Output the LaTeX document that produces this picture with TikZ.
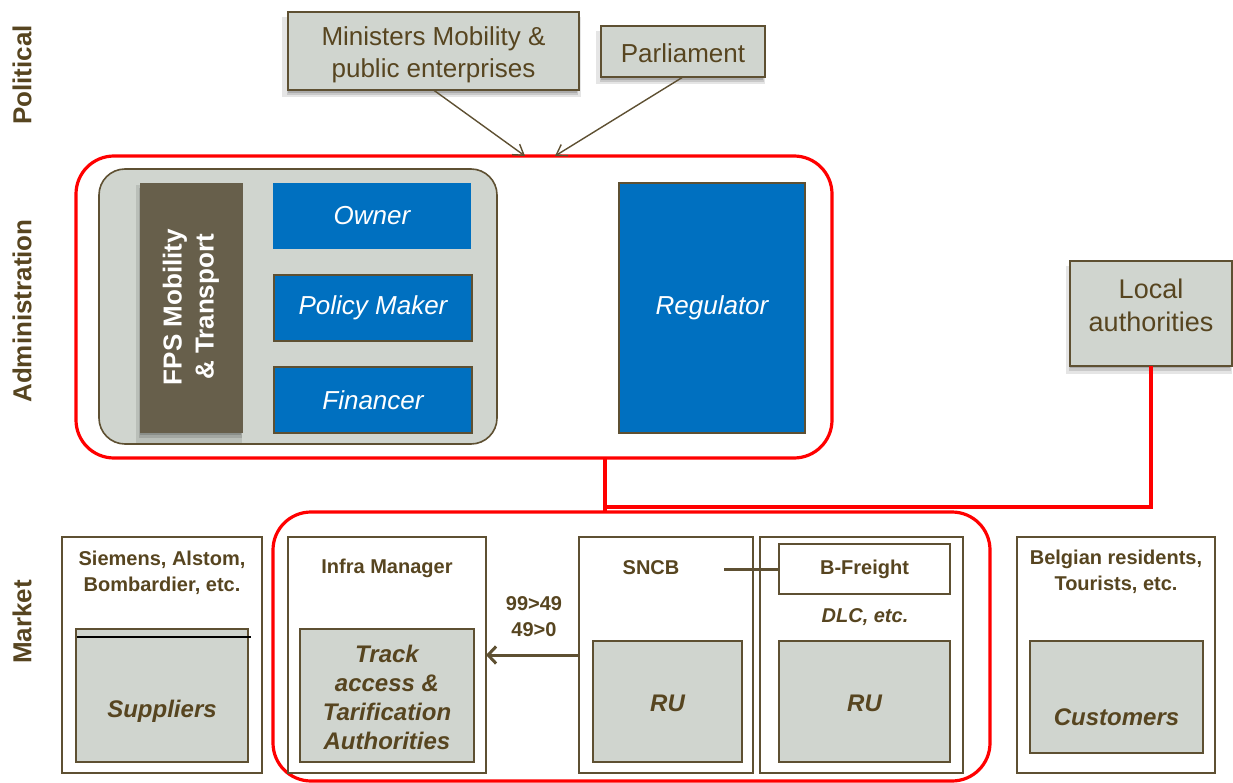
\documentclass[tikz,border=0pt]{standalone}
\usepackage{fontspec}
\setmainfont{Liberation Sans}
\usetikzlibrary{arrows.meta,shadows,calc}

\definecolor{txtbrown}{HTML}{574520}
\definecolor{edgebrown}{HTML}{5E5032}
\definecolor{panelgrey}{HTML}{D0D5CF}
\definecolor{roleblue}{HTML}{0070C0}
\definecolor{fpsbrown}{HTML}{675F4B}
\definecolor{linkred}{HTML}{FF0000}

\begin{document}
\begin{tikzpicture}[x=1pt,y=-1pt,
  every node/.style={inner sep=0pt, outer sep=0pt},
  sidelabel/.style={rotate=90, text=txtbrown, font=\bfseries\fontsize{26}{30}\selectfont},
  shade/.style={
    drop shadow={shadow xshift=-2pt, shadow yshift=-6pt, opacity=0.10, fill=black, shadow scale=1.03},
    drop shadow={shadow xshift=-1pt, shadow yshift=-5pt, opacity=0.12, fill=black},
    drop shadow={shadow xshift=-1pt, shadow yshift=-3pt, opacity=0.15, fill=black, shadow scale=0.99}},
  polbox/.style={draw=edgebrown, line width=1.6pt, fill=panelgrey, shade},
  poltxt/.style={text=txtbrown, align=center, font=\fontsize{26}{32}\selectfont},
  rolebox/.style={fill=roleblue, text=white, font=\itshape\fontsize{26}{30}\selectfont},
  framed/.style={draw=edgebrown, line width=1.4pt},
  redframe/.style={draw=linkred, line width=3.2pt, rounded corners=38pt},
  outerbox/.style={draw=edgebrown, line width=1.7pt, fill=white},
  innerbox/.style={draw=edgebrown, line width=1.7pt, fill=panelgrey},
  headtxt/.style={text=txtbrown, align=center, font=\bfseries\fontsize{20}{26}\selectfont},
  bigtxt/.style={text=txtbrown, align=center, font=\bfseries\itshape\fontsize{24}{29}\selectfont},
  thinarrow/.style={draw=edgebrown, line width=1.4pt, -{Straight Barb[length=10pt,width=13pt]}},
  redlink/.style={draw=linkred, line width=3.2pt}
]
\useasboundingbox (0,0) rectangle (1233,783);

% level labels
\node[sidelabel] (lpol) at (22,75) {Political};
\node[sidelabel] (ladm) at (22,311) {Administration};
\node[sidelabel] (lmkt) at (22,622) {Market};

% political level
\node[polbox, minimum width=291pt, minimum height=78pt] (mini) at (433.5,51) {};
\node[poltxt] (minitxt) at (433.5,55) {Ministers Mobility \&\\public enterprises};
\node[polbox, minimum width=164pt, minimum height=51pt] (parl) at (683,51.5) {};
\node[poltxt] (parltxt) at (683,53) {Parliament};

% administration level
\node[redframe, minimum width=756pt, minimum height=302pt] (admin) at (454,307) {};
\node[draw=edgebrown, line width=1.6pt, fill=panelgrey, rounded corners=26pt,
  minimum width=398pt, minimum height=275pt] (fpspanel) at (298,306.5) {};
\node[fill=fpsbrown, shade, minimum width=103pt, minimum height=250pt] (fps) at (191.5,308) {};
\node[rotate=90, text=white, align=center, font=\bfseries\fontsize{26}{32}\selectfont]
  (fpstxt) at (191,307) {FPS Mobility\\\& Transport};
\node[rolebox, minimum width=198pt, minimum height=66pt] (owner) at (372,216) {Owner};
\node[rolebox, framed, minimum width=198pt, minimum height=66pt] (policy) at (373,308) {Policy Maker};
\node[rolebox, framed, minimum width=198pt, minimum height=66pt] (fin) at (373,400) {Financer};
\node[rolebox, framed, minimum width=186pt, minimum height=250pt] (reg) at (712,308) {Regulator};

\node[polbox, minimum width=162pt, minimum height=105pt] (local) at (1151,313.5) {};
\node[text=txtbrown, align=center, font=\fontsize{27}{33}\selectfont] (localtxt) at (1151,305)
  {Local\\authorities};

% political arrows into the administration frame
\coordinate (hitA) at (525,156);
\coordinate (hitB) at (555,156);
\draw[thinarrow] (mini.south) -- (hitA);
\draw[thinarrow] (parl.south) -- (hitB);

% market level
\node[redframe, minimum width=717pt, minimum height=269pt] (market) at (631.5,646.5) {};

\coordinate (join) at (605,507);
\draw[redlink] (admin.south -| join) -- (market.north -| join);
\draw[redlink] (local.south) |- (join);

% suppliers
\node[outerbox, minimum width=200pt, minimum height=236pt] (supout) at (162,655) {};
\node[innerbox, minimum width=172pt, minimum height=133pt] (supin) at (162,695.5) {};
\draw[black, line width=1.6pt] ($(supin.north west)+(1,8)$) -- ($(supin.north east)+(3,8)$);
\node[headtxt] (suphead) at (162,573) {Siemens, Alstom,\\Bombardier, etc.};
\node[bigtxt] (suptxt) at (162,711) {Suppliers};

% infrastructure manager
\node[outerbox, minimum width=198pt, minimum height=236pt] (infout) at (387,655) {};
\node[innerbox, minimum width=174pt, minimum height=133pt] (infin) at (387,695.5) {};
\node[headtxt] (infhead) at (387,568) {Infra Manager};
\node[bigtxt] (inftxt) at (387,697) {Track\\access \&\\Tarification\\Authorities};

% SNCB
\node[outerbox, minimum width=174pt, minimum height=236pt] (sncbout) at (666,655) {};
\node[innerbox, minimum width=149pt, minimum height=121pt] (sncbru) at (667.5,701.5) {};
\node[headtxt] (sncbhead) at (651,568) {SNCB};
\node[bigtxt] (sncbrutxt) at (667.5,703) {RU};

% other railway undertakings
\node[outerbox, minimum width=203pt, minimum height=236pt] (dlcout) at (861.5,655) {};
\node[outerbox, minimum width=171pt, minimum height=50pt] (bfr) at (864.5,569) {};
\node[headtxt] (bfrtxt) at (864.5,569) {B-Freight};
\node[text=txtbrown, font=\bfseries\itshape\fontsize{20}{24}\selectfont] (dlctxt) at (865,617) {DLC, etc.};
\node[innerbox, minimum width=171pt, minimum height=121pt] (dlcru) at (864.5,701.5) {};
\node[bigtxt] (dlcrutxt) at (864.5,703) {RU};

\coordinate (sncbtie) at (724,569);
\draw[draw=edgebrown, line width=3pt] (sncbtie) -- (bfr.west);

% shareholding arrow
\draw[draw=edgebrown, line width=3pt, -{Straight Barb[length=8pt,width=17pt]}]
  (sncbout.west |- 0,655) -- (infout.east |- 0,655);
\node[headtxt] (share) at (534,617) {99>49\\49>0};

% customers
\node[outerbox, minimum width=198pt, minimum height=236pt] (cusout) at (1116,655) {};
\node[innerbox, minimum width=173pt, minimum height=112pt] (cusin) at (1116.5,697) {};
\node[headtxt] (cushead) at (1116,572) {Belgian residents,\\Tourists, etc.};
\node[bigtxt] (custxt) at (1116.5,717) {Customers};
\end{tikzpicture}
\end{document}
